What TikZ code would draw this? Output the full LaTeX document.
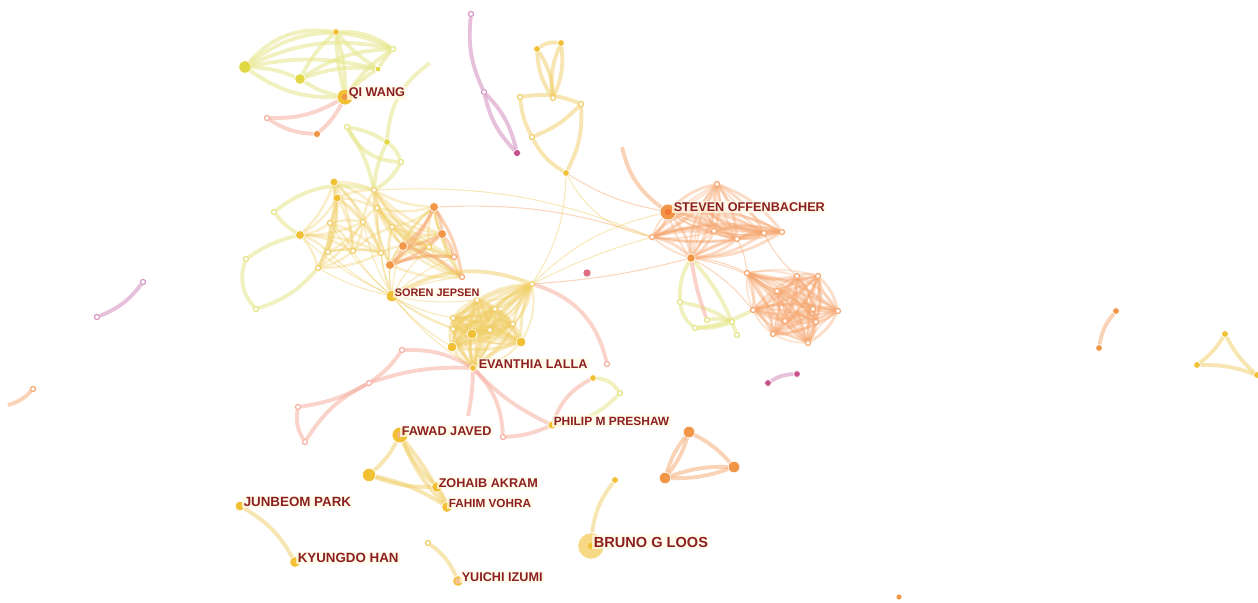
\documentclass[tikz,border=0pt]{standalone}
\usepackage{fontspec}
\setmainfont{Liberation Sans}
\usetikzlibrary{positioning,backgrounds}

\definecolor{nY}{RGB}{242,192,52}
\definecolor{nO}{RGB}{240,150,70}
\definecolor{nG}{RGB}{226,216,70}
\definecolor{nM}{RGB}{200,80,140}
\definecolor{nP}{RGB}{222,110,130}
\definecolor{eG}{RGB}{228,228,130}
\definecolor{eY}{RGB}{240,205,100}
\definecolor{eO}{RGB}{245,165,110}
\definecolor{eP}{RGB}{245,175,160}
\definecolor{eM}{RGB}{215,150,195}
\definecolor{lblred}{RGB}{140,32,32}
\definecolor{lblbg}{RGB}{255,251,232}

\tikzset{
  nodeY/.style={circle,inner sep=0pt,draw=white,line width=0.3pt,fill=nY,minimum size=#1},
  nodeY/.default=3.8pt,
  nodeO/.style={circle,inner sep=0pt,draw=white,line width=0.3pt,fill=nO,minimum size=#1},
  nodeO/.default=3.8pt,
  nodeG/.style={circle,inner sep=0pt,draw=white,line width=0.3pt,fill=nG,minimum size=#1},
  nodeG/.default=3.8pt,
  nodeM/.style={circle,inner sep=0pt,draw=white,line width=0.3pt,fill=nM,minimum size=#1},
  nodeM/.default=3.8pt,
  hollow/.style={circle,inner sep=0pt,minimum size=2.9pt,fill=white,draw=#1,line width=0.7pt},
  hollow/.default=eY,
  core/.style={path picture={\fill[#1] (path picture bounding box.center) circle (1.8pt);}},
  lbl/.style={anchor=west,text=lblred,font=\bfseries\fontsize{7.2}{8}\selectfont,
    fill=lblbg,fill opacity=0.75,text opacity=1,inner sep=0.8pt},
  gE/.style={draw=eG,line width=2.2pt,opacity=0.5},
  yE/.style={draw=eY,line width=2.2pt,opacity=0.5},
  oE/.style={draw=eO,line width=2.2pt,opacity=0.5},
  pE/.style={draw=eP,line width=2.2pt,opacity=0.55},
  mE/.style={draw=eM,line width=2.2pt,opacity=0.6},
  faint/.style={line width=0.6pt,opacity=0.45},
  mesh/.style={line width=1.4pt,opacity=0.35},
}

\begin{document}
\begin{tikzpicture}[x=0.02cm,y=-0.02cm]
\useasboundingbox (0,0) rectangle (1258,602);

% Qi Wang group
\node[nodeG=7pt] (q1) at (245,67) {};
\node[nodeY] (q2) at (336,32) {};
\node[hollow=eG] (q3) at (393,49) {};
\node[nodeG=6pt] (q4) at (300,79) {};
\node[nodeG=3.2pt] (q5) at (378,69) {};
\node[nodeY=9pt,core=nO] (q0) at (345,97) {};
\node[hollow=eP] (q6) at (267,118) {};
\node[nodeO=4pt] (q7) at (317,134) {};
\coordinate (qtail) at (430,63);
\node[hollow=eG] (b1) at (347,127) {};
\node[nodeG] (b2) at (387,142) {};
\node[hollow=eG] (b3) at (401,162) {};

% pink pair at the top
\node[hollow=eM] (p1) at (471,14) {};
\node[hollow=eM] (p2) at (484,92) {};
\node[nodeM=4pt] (p3) at (517,153) {};

% top middle group
\node[nodeY] (c1) at (537,49) {};
\node[nodeY] (c2) at (561,43) {};
\node[hollow] (c3) at (553,98) {};
\node[hollow] (c4) at (520,97) {};
\node[hollow] (c5) at (581,104) {};
\node[hollow] (c6) at (532,137) {};
\node[nodeY] (c7) at (566,173) {};

% left middle cluster
\node[nodeY=4.5pt] (da1) at (334,182) {};
\node[nodeY=4.5pt] (da2) at (337,198) {};
\node[hollow] (da3) at (330,223) {};
\node[hollow] (da4) at (363,222) {};
\node[nodeY=5pt] (da5) at (300,235) {};
\node[hollow] (da6) at (328,252) {};
\node[hollow] (da7) at (353,251) {};
\node[hollow] (da8) at (381,253) {};
\node[hollow] (da9) at (318,268) {};
\node[hollow] (db1) at (374,190) {};
\node[hollow] (db2) at (377,208) {};
\node[hollow] (db3) at (392,227) {};
\node[nodeO=5pt] (db4) at (434,207) {};
\node[nodeO=5pt] (db5) at (442,234) {};
\node[nodeO=5pt] (db6) at (403,246) {};
\node[hollow] (db7) at (429,247) {};
\node[hollow=eO] (db8) at (454,257) {};
\node[nodeO=5pt] (db9) at (390,265) {};
\node[hollow=eO] (db10) at (462,277) {};
\node[hollow=eG] (dw1) at (274,212) {};
\node[hollow=eG] (dw2) at (246,259) {};
\node[hollow=eG] (dw3) at (256,309) {};
\node[nodeY=6.5pt] (soren) at (392,296) {};
\node[circle,inner sep=0pt,fill=nP,minimum size=4.2pt] (pdot) at (587,273) {};

% Evanthia cluster
\node[nodeY] (ev0) at (473,368) {};
\node[hollow] (ev1) at (477,300) {};
\node[hollow] (ev2) at (495,309) {};
\node[hollow] (ev3) at (453,318) {};
\node[hollow] (ev4) at (513,324) {};
\node[nodeY=5.5pt] (ev5) at (472,334) {};
\node[hollow] (ev6) at (490,330) {};
\node[hollow] (ev7) at (453,329) {};
\node[nodeY=5.5pt] (ev8) at (521,342) {};
\node[nodeY=5.5pt] (ev9) at (452,347) {};
\node[hollow] (ev10) at (532,284) {};
\node[hollow=eP] (pk1) at (607,364) {};
\node[hollow=eP] (pe1) at (402,350) {};
\node[hollow=eP] (pe2) at (369,383) {};
\node[hollow=eP] (pe3) at (298,407) {};
\node[hollow=eP] (pe4) at (305,442) {};
\coordinate (pe5) at (468,416);

% Steven cluster
\node[nodeO=9pt,core=nO!80!red] (s0) at (668,212) {};
\node[hollow=eO] (s1) at (717,184) {};
\node[hollow=eO] (s2) at (652,237) {};
\node[hollow=eO] (s3) at (714,231) {};
\node[hollow=eO] (s4) at (737,239) {};
\node[hollow=eO] (s5) at (764,233) {};
\node[hollow=eO] (s6) at (782,232) {};
\node[nodeO=4.8pt] (s7) at (691,258) {};
\node[hollow=eO] (s8) at (701,208) {};
\coordinate (stail) at (622,147);
\node[hollow=eO] (o1) at (797,276) {};
\node[hollow=eO] (o2) at (818,276) {};
\node[hollow=eO] (o3) at (777,291) {};
\node[hollow=eO] (o4) at (747,273) {};
\node[hollow=eO] (o5) at (753,310) {};
\node[hollow=eO] (o6) at (785,321) {};
\node[hollow=eO] (o7) at (813,309) {};
\node[hollow=eO] (o8) at (816,322) {};
\node[hollow=eO] (o9) at (838,311) {};
\node[hollow=eO] (o10) at (773,334) {};
\node[hollow=eO] (o11) at (808,343) {};
\node[hollow=eG] (g1) at (680,302) {};
\node[hollow=eG] (g2) at (695,328) {};
\node[hollow=eG] (g3) at (707,320) {};
\node[hollow=eG] (g4) at (732,322) {};
\node[hollow=eG] (g5) at (737,335) {};

% bottom groups
\node[nodeY=4.5pt] (ph0) at (552,425) {};
\node[nodeY] (ph1) at (593,378) {};
\node[hollow=eG] (ph2) at (620,393) {};
\node[hollow=eP] (ph3) at (503,437) {};
\node[nodeY=9pt,core=nO!70] (fw0) at (400,435) {};
\node[nodeY=7.5pt] (fw1) at (369,475) {};
\node[nodeY=6pt] (fw2) at (437,487) {};
\node[nodeY=6pt] (fw3) at (447,507) {};
\node[nodeY=5.5pt] (jb) at (240,506) {};
\node[nodeY=6pt] (kh) at (295,562) {};
\node[hollow=eY] (yu0) at (428,543) {};
\node[nodeY=6pt,core=nO!60] (yu) at (458,581) {};
\node[circle,inner sep=0pt,fill=nY!60,draw=white,minimum size=15pt,core=nY] (br) at (591,546) {};
\node[nodeY] (br1) at (615,480) {};
\node[nodeO=6.5pt] (t1) at (689,432) {};
\node[nodeO=6.5pt] (t2) at (734,467) {};
\node[nodeO=6.5pt] (t3) at (665,478) {};
\node[nodeM] (m1) at (768,383) {};
\node[nodeM] (m2) at (797,374) {};
\node[nodeO=3.4pt] (lone) at (899,597) {};
\node[hollow=eM] (l1) at (97,317) {};
\node[hollow=eM] (l2) at (143,282) {};
\node[hollow=eO] (l3) at (33,389) {};
\coordinate (l4) at (8,405);
\node[nodeO] (r1) at (1116,311) {};
\node[nodeO] (r2) at (1099,348) {};
\node[nodeY] (r3) at (1225,334) {};
\node[nodeY] (r4) at (1197,365) {};
\node[nodeY] (r5) at (1257,375) {};

\begin{pgfonlayer}{background}
% Qi Wang group
\foreach \a/\b/\k in {q1/q2/28,q1/q3/32,q1/q4/10,q1/q0/-18,q1/q5/12,q2/q3/18,q2/q4/-10,
    q2/q0/-5,q2/q0/8,q2/q5/-8,q3/q4/-15,q3/q0/-10,q4/q0/-10,q4/q5/12,q5/q0/-8,q3/q5/-5,q1/q3/18}
  \draw[gE] (\a) to[bend left=\k] (\b);
\draw[pE] (q0) to[bend left=15] (q6);
\draw[pE] (q6) to[bend right=15] (q7);
\draw[pE] (q0) to[bend left=10] (q7);
\draw[gE] (qtail) to[bend right=25] (b2);
\draw[gE] (b1) to[bend left=10] (b2);
\draw[gE] (b2) to[bend left=15] (b3);
\draw[gE] (b1) to[bend right=30] (b3);
\draw[gE] (b1) to[bend left=10] (db1);
\draw[gE] (b3) to[bend left=15] (db1);
\draw[gE] (b2) to[bend right=10] (db1);

% pink pair at the top
\draw[mE] (p1) to[bend right=15] (p2);
\draw[mE] (p2) to[bend left=15] (p3);
\draw[mE] (p2) to[bend right=15] (p3);

% top middle group
\draw[yE] (c1) to[bend left=20] (c2);
\draw[yE] (c1) to[bend left=15] (c3);
\draw[yE] (c1) to[bend right=15] (c3);
\draw[yE] (c2) to[bend left=15] (c3);
\draw[yE] (c2) to[bend right=15] (c3);
\draw[yE] (c4) to[bend left=15] (c5);
\draw[yE] (c4) to[bend right=10] (c6);
\draw[yE] (c5) to[bend left=12] (c6);
\draw[yE] (c6) to[bend right=15] (c7);
\draw[yE] (c5) to[bend left=15] (c7);
\draw[yE,faint] (c7) to[bend left=15] (ev10);
\draw[yE,faint] (c7) to[bend right=25] (s2);
\draw[oE,faint] (c7) to[bend right=10] (s0);

% left middle cluster
\foreach \i in {1,...,9}
  \foreach \j in {1,...,9}
    {\ifnum\i<\j \draw[yE,mesh] (da\i) to[bend left=12] (da\j); \fi}
\foreach \i in {1,...,10}
  \foreach \j in {1,...,10}
    {\ifnum\i<\j \draw[yE,mesh] (db\i) to[bend right=12] (db\j); \fi}
\foreach \a/\b in {db4/db5,db4/db6,db5/db6,db4/db9,db5/db9,db6/db9,db5/db8,db4/db10,db6/db10,db9/db8}
  \draw[oE,line width=1.8pt,opacity=0.5] (\a) to[bend left=12] (\b);
\foreach \a/\b in {da1/db1,da2/db1,da4/db1,da4/db2,da7/db3,da8/db6,da2/db2,da1/db2}
  \draw[yE,mesh] (\a) to[bend left=10] (\b);
\draw[gE] (dw1) to[bend left=25] (db1);
\draw[gE] (dw1) to[bend right=10] (da5);
\draw[gE] (dw2) to[bend right=30] (dw3);
\draw[gE] (dw3) to[bend right=15] (da9);
\draw[gE] (dw2) to[bend left=10] (da5);
\foreach \t in {da3,da4,da5,da6,da7,da8,da9,db2,db3,db6,db7,db9,db8,db10}
  \draw[yE,faint] (soren) to[bend left=8] (\t);
\draw[oE,faint] (db4) to[bend left=10] (s2);
\draw[yE,faint] (db1) to[bend left=12] (s2);

% Evanthia cluster
\foreach \i in {0,...,10}
  \foreach \j in {0,...,10}
    {\ifnum\i<\j \draw[yE,line width=1.8pt,opacity=0.4] (ev\i) to[bend left=12] (ev\j);
      \draw[yE,line width=1.2pt,opacity=0.35] (ev\i) to[bend right=18] (ev\j); \fi}
\foreach \t in {ev1,ev3,ev5,ev7,ev9,ev0}
  \draw[yE,faint] (soren) to[bend right=8] (\t);
\draw[yE] (soren) to[bend left=25] (ev10);
\draw[yE,faint] (ev10) to[bend left=5] (s2);
\draw[yE,faint] (ev10) to[bend left=15] (s0);
\draw[oE,faint] (ev10) to[bend right=5] (s7);
\draw[pE] (ev10) to[bend left=30] (pk1);
\draw[pE] (ev0) to[bend right=15] (pe1);
\draw[pE] (pe1) to[bend left=10] (pe2);
\draw[pE] (pe2) to[bend left=10] (pe3);
\draw[pE] (pe3) to[bend right=20] (pe4);
\draw[pE] (pe4) to[bend left=15] (pe2);
\draw[pE] (pe2) to[bend left=10] (ev0);
\draw[pE] (ev0) to[bend left=5] (pe5);

% Steven cluster
\foreach \i in {0,...,8}
  \foreach \j in {0,...,8}
    {\ifnum\i<\j \draw[oE,line width=1.6pt,opacity=0.4] (s\i) to[bend left=15] (s\j);
      \draw[oE,line width=1pt,opacity=0.35] (s\i) to[bend right=10] (s\j); \fi}
\draw[oE] (stail) to[bend right=20] (s0);
\foreach \i in {1,...,11}
  \foreach \j in {1,...,11}
    {\ifnum\i<\j \draw[oE,line width=1.6pt,opacity=0.38] (o\i) to[bend left=15] (o\j);
      \draw[oE,line width=1pt,opacity=0.3] (o\i) to[bend right=12] (o\j); \fi}
\foreach \t in {o4,o3,o5}
  \draw[oE,faint] (s7) to[bend left=10] (\t);
\draw[oE,faint] (s4) to[bend left=10] (o4);
\draw[oE,faint] (s5) to[bend right=10] (o1);
\draw[gE] (s7) to[bend right=15] (g1);
\draw[gE] (g1) to[bend right=20] (g2);
\draw[gE] (g1) to[bend left=10] (g4);
\draw[gE] (g2) to[bend right=10] (g4);
\draw[gE] (g3) to[bend left=15] (g4);
\draw[gE] (s7) to[bend left=10] (g5);
\draw[gE] (g2) to[bend right=10] (o5);
\draw[pE] (s7) to[bend right=5] (g3);

% bottom groups
\draw[pE] (ev0) to[bend left=20] (ph3);
\draw[pE] (ph3) to[bend right=10] (ph0);
\draw[pE] (ev0) to[bend right=10] (ph0);
\draw[pE] (ph0) to[bend left=20] (ph1);
\draw[gE] (ph0) to[bend right=20] (ph2);
\draw[gE] (ph1) to[bend left=25] (ph2);
\foreach \a/\b/\k in {fw0/fw1/10,fw0/fw2/-10,fw0/fw3/-10,fw0/fw3/5,fw1/fw2/-10,fw1/fw3/10,fw2/fw3/10}
  \draw[yE] (\a) to[bend left=\k] (\b);
\draw[yE] (jb) to[bend left=15] (kh);
\draw[yE] (yu0) to[bend left=15] (yu);
\draw[yE] (br1) to[bend right=15] (br);
\draw[oE] (t1) to[bend left=10] (t2);
\draw[oE] (t1) to[bend right=10] (t3);
\draw[oE] (t1) to[bend left=10] (t3);
\draw[oE] (t2) to[bend left=10] (t3);
\draw[oE] (t2) to[bend right=10] (t3);
\draw[mE] (m1) to[bend left=15] (m2);
\draw[mE] (l1) to[bend right=15] (l2);
\draw[oE] (l3) to[bend left=15] (l4);
\draw[oE] (r1) to[bend right=15] (r2);
\draw[yE] (r3) to[bend left=10] (r4);
\draw[yE] (r4) to[bend left=10] (r5);
\draw[yE] (r3) to[bend right=10] (r5);
\end{pgfonlayer}

% labels
\node[lbl] (lq0) at (347,93) {QI WANG};
\node[lbl] (ls0) at (672,207) {STEVEN OFFENBACHER};
\node[lbl,font=\bfseries\fontsize{6.2}{7}\selectfont] (lsoren) at (393,293) {SOREN JEPSEN};
\node[lbl] (lev0) at (477,364) {EVANTHIA LALLA};
\node[lbl,font=\bfseries\fontsize{6.8}{8}\selectfont] (lph0) at (552,421) {PHILIP M PRESHAW};
\node[lbl] (lfw0) at (400,431) {FAWAD JAVED};
\node[lbl] (lfw2) at (437,483) {ZOHAIB AKRAM};
\node[lbl,font=\bfseries\fontsize{6.7}{8}\selectfont] (lfw3) at (447,503) {FAHIM VOHRA};
\node[lbl,font=\bfseries\fontsize{7.6}{9}\selectfont] (ljb) at (242,502) {JUNBEOM PARK};
\node[lbl,font=\bfseries\fontsize{7.6}{9}\selectfont] (lkh) at (296,558) {KYUNGDO HAN};
\node[lbl] (lyu) at (460,577) {YUICHI IZUMI};
\node[lbl,font=\bfseries\fontsize{8.3}{10}\selectfont] (lbr) at (592,542) {BRUNO G LOOS};
\end{tikzpicture}
\end{document}
